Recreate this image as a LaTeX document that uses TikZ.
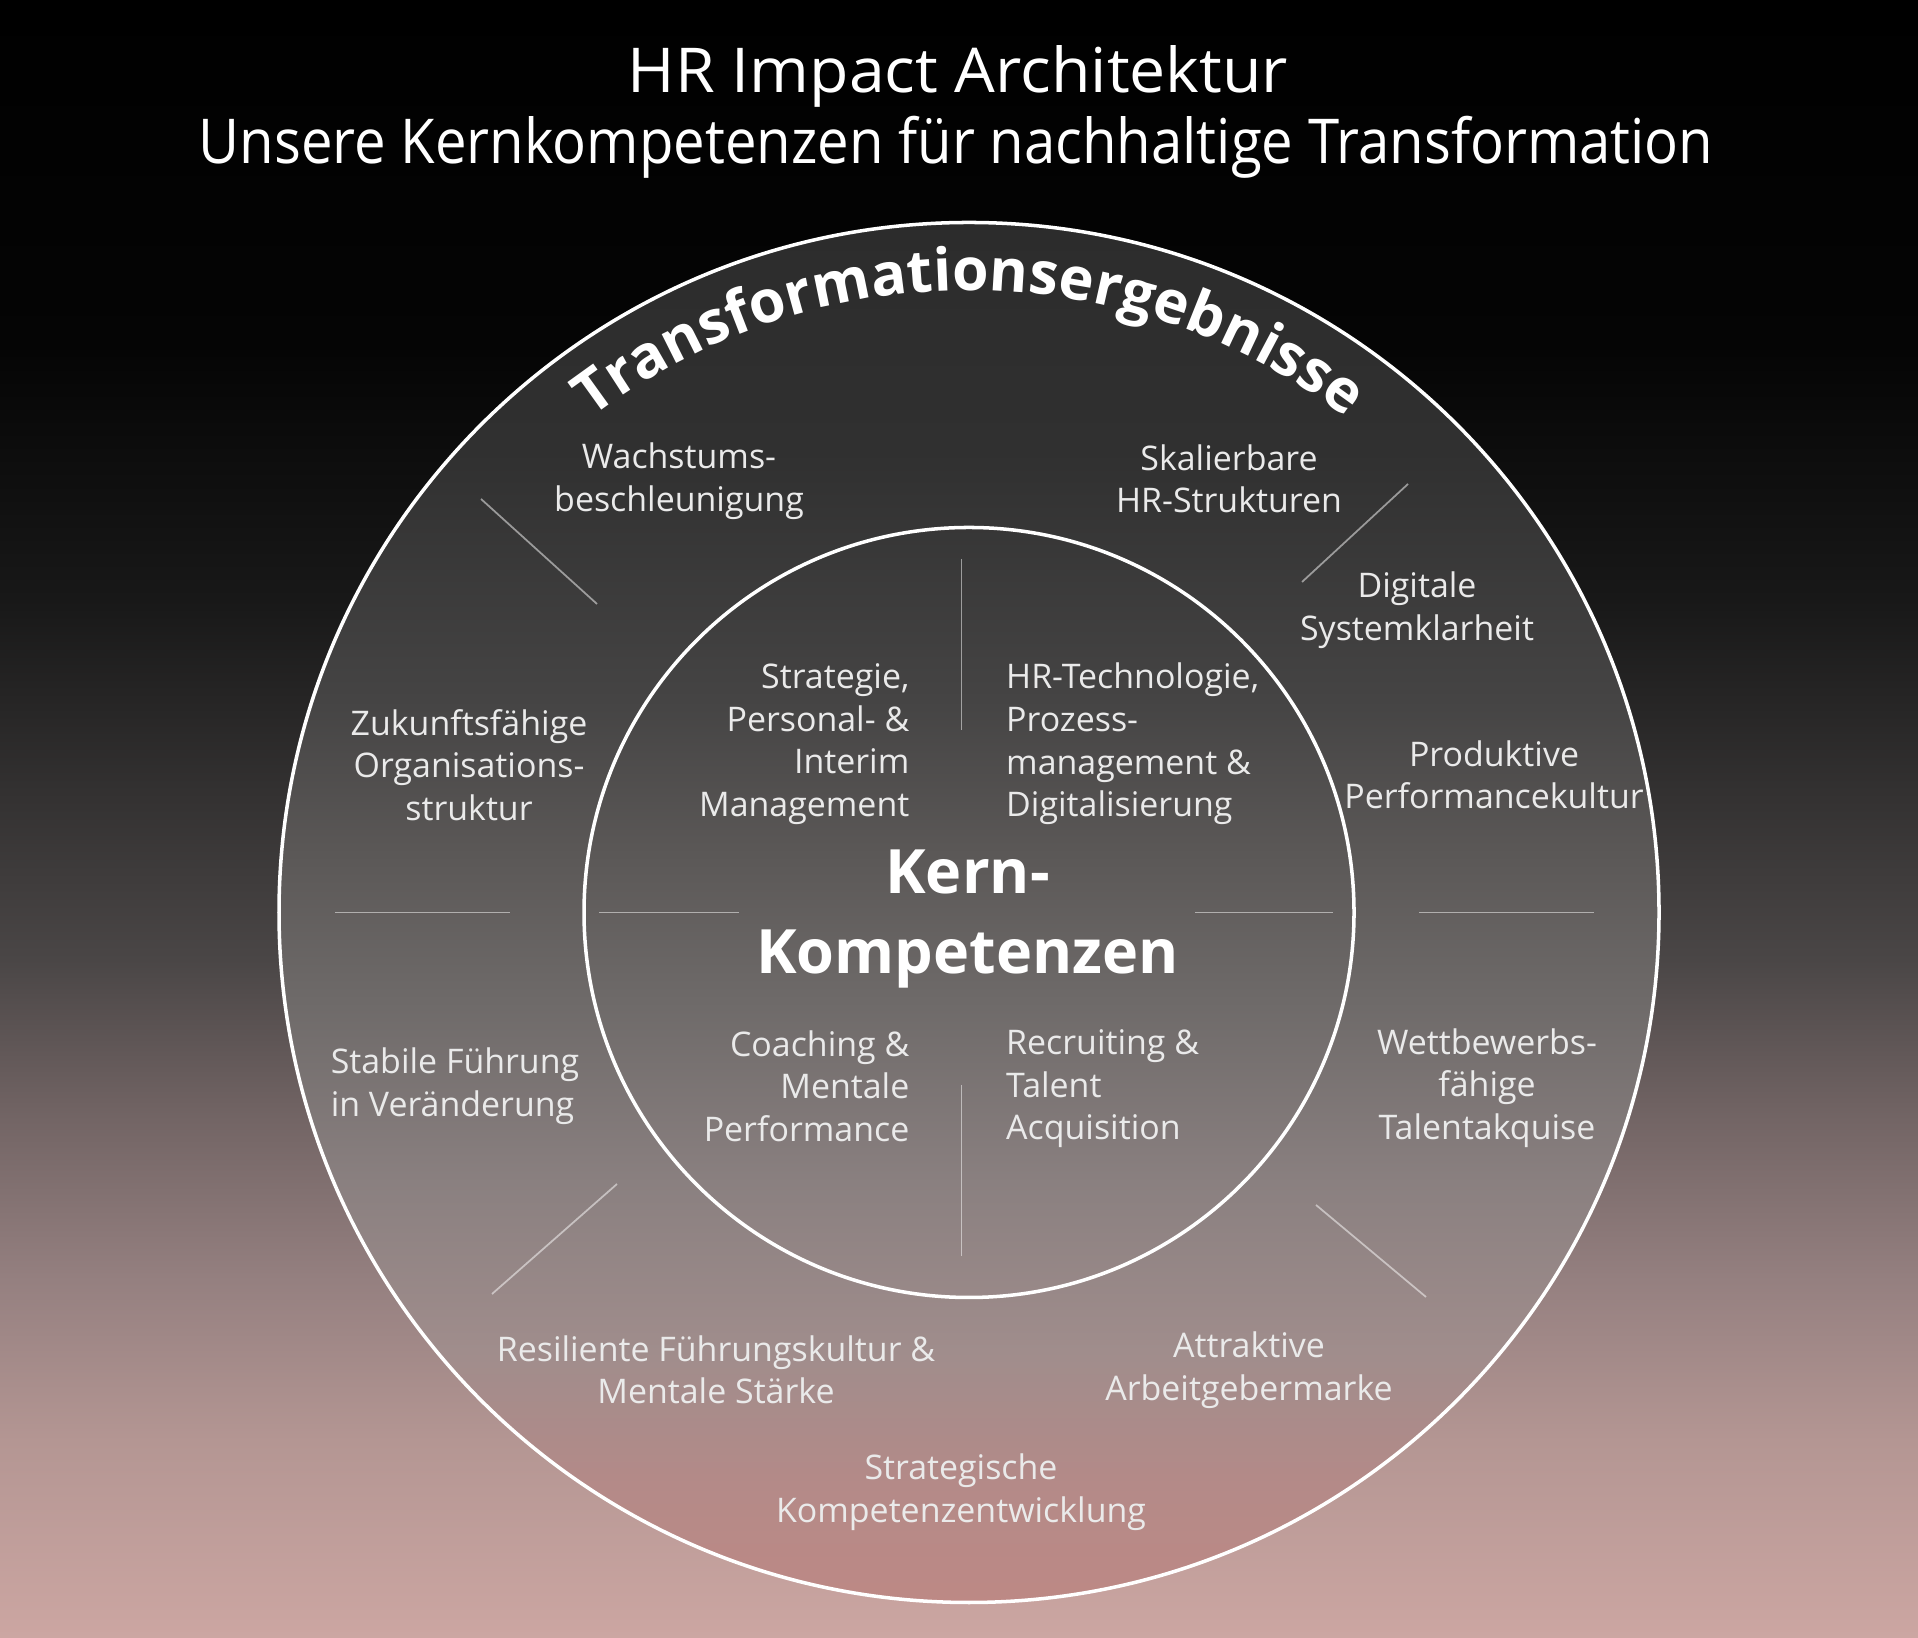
\documentclass[tikz,border=0pt]{standalone}
\usepackage{fontspec}
\setmainfont{Open Sans}
\usetikzlibrary{decorations.text}
% background and ring colours, bottom to top
\definecolor{bga}{HTML}{CCA6A2}
\definecolor{bgb}{HTML}{B49693}
\definecolor{bgc}{HTML}{958080}
\definecolor{bgd}{HTML}{736565}
\definecolor{bge}{HTML}{4A4646}
\definecolor{bgf}{HTML}{343232}
\definecolor{bgg}{HTML}{181818}
\definecolor{bgh}{HTML}{050505}
\definecolor{rga}{HTML}{BD8985}
\definecolor{rgb}{HTML}{B48A88}
\definecolor{rgc}{HTML}{A08D8C}
\definecolor{rgd}{HTML}{8A8080}
\definecolor{rge}{HTML}{6E6A69}
\definecolor{rgf}{HTML}{5B5857}
\definecolor{rgg}{HTML}{454444}
\definecolor{rgh}{HTML}{303030}
\definecolor{rgi}{HTML}{2C2C2C}
\definecolor{lbltxt}{HTML}{EAEAEA}
\pgfdeclareverticalshading{bgsh}{100bp}{color(0bp)=(bga); color(25bp)=(bga); color(31bp)=(bgb);
  color(35.9bp)=(bgc); color(40.8bp)=(bgd); color(45.7bp)=(bge); color(50.6bp)=(bgf);
  color(56.7bp)=(bgg); color(64.3bp)=(bgh); color(75bp)=(black); color(100bp)=(black)}
\pgfdeclareverticalshading{ringsh}{100bp}{color(0bp)=(rga); color(25bp)=(rga); color(29.3bp)=(rgb);
  color(34.1bp)=(rgc); color(40.2bp)=(rgd); color(46.8bp)=(rge); color(52.1bp)=(rgf);
  color(57.7bp)=(rgg); color(66.7bp)=(rgh); color(75bp)=(rgi); color(100bp)=(rgi)}
\newcommand\arcfont{\fontsize{16.8}{20}\selectfont\bfseries\color{white}}

\begin{document}
\begin{tikzpicture}[font=\fontsize{9.65}{12.1}\selectfont,
    lbl/.style={text=lbltxt, align=center, inner sep=0pt},
    inl/.style={text=lbltxt, inner sep=0pt},
    ttl/.style={text=white, inner sep=0pt, font=\fontsize{17.6}{21}\selectfont},
    sep/.style={white, opacity=.5, line width=.5pt},
  ]
  \path[shade, shading=bgsh] (0,0) rectangle (19.18,16.38);
  \useasboundingbox (0,0) rectangle (19.18,16.38);
  \coordinate (ctr) at (9.69,7.255);

  % title
  \node[ttl] (title) at (9.58,15.62) {\addfontfeature{FakeStretch=1.04}HR Impact Architektur};
  \node[ttl] (subtitle) at (9.56,14.91) {\addfontfeature{FakeStretch=0.91}Unsere Kernkompetenzen für nachhaltige Transformation};

  % rings
  \path[shade, shading=ringsh, draw=white, line width=1pt] (ctr) circle[radius=6.9];
  \draw[white, line width=1pt] (ctr) circle[radius=3.85];
  \path[decorate, decoration={text along path, text align=center,
      text={|\arcfont|Transformationsergebnisse}}]
    ([shift={(160:6.22)}]ctr) arc[start angle=160, end angle=20, radius=6.22];

  % dividers
  \foreach \p/\q in {{(3.35,7.255)}/{(5.10,7.255)}, {(14.19,7.255)}/{(15.94,7.255)},
      {(4.81,11.39)}/{(5.97,10.34)}, {(14.08,11.54)}/{(13.02,10.56)},
      {(6.17,4.54)}/{(4.92,3.44)}, {(13.16,4.33)}/{(14.26,3.41)},
      {(9.615,10.79)}/{(9.615,9.08)}, {(9.615,5.53)}/{(9.615,3.82)},
      {(5.99,7.255)}/{(7.39,7.255)}, {(11.95,7.255)}/{(13.33,7.255)}}
    \draw[sep] \p -- \q;

  % core
  \node[text=white, align=center, inner sep=0pt, font=\fontsize{17.4}{22.5}\selectfont\bfseries]
    (kern) at (9.675,7.19) {Kern-\\Kompetenzen};
  \node[inl, anchor=east, align=right] (strat) at (9.10,8.94) {Strategie,\\Personal- \&\\Interim\\Management};
  \node[inl, anchor=west, align=left] (tech) at (10.055,8.94) {HR-Technologie,\\Prozess-\\management \&\\Digitalisierung};
  \node[inl, anchor=east, align=right] (coach) at (9.10,5.52) {Coaching \&\\Mentale\\Performance};
  \node[inl, anchor=west, align=left] (recr) at (10.055,5.49) {Recruiting \&\\Talent\\Acquisition};

  % results
  \node[lbl] (wachs) at (6.79,11.57) {Wachstums-\\beschleunigung};
  \node[lbl] (skal) at (12.29,11.59) {Skalierbare\\HR-Strukturen};
  \node[lbl] (digi) at (14.17,10.28) {Digitale\\Systemklarheit};
  \node[lbl] (prod) at (14.94,8.63) {Produktive\\Performancekultur};
  \node[lbl] (zuk) at (4.69,8.73) {Zukunftsfähige\\Organisations-\\struktur};
  \node[lbl, align=left] (stab) at (4.55,5.52) {Stabile Führung\\in Veränderung};
  \node[lbl] (wett) at (14.87,5.50) {Wettbewerbs-\\fähige\\Talentakquise};
  \node[lbl] (resi) at (7.16,2.68) {Resiliente Führungskultur \&\\Mentale Stärke};
  \node[lbl] (attr) at (12.49,2.68) {Attraktive\\Arbeitgebermarke};
  \node[lbl] (kompz) at (9.61,1.46) {Strategische\\Kompetenzentwicklung};
\end{tikzpicture}
\end{document}
